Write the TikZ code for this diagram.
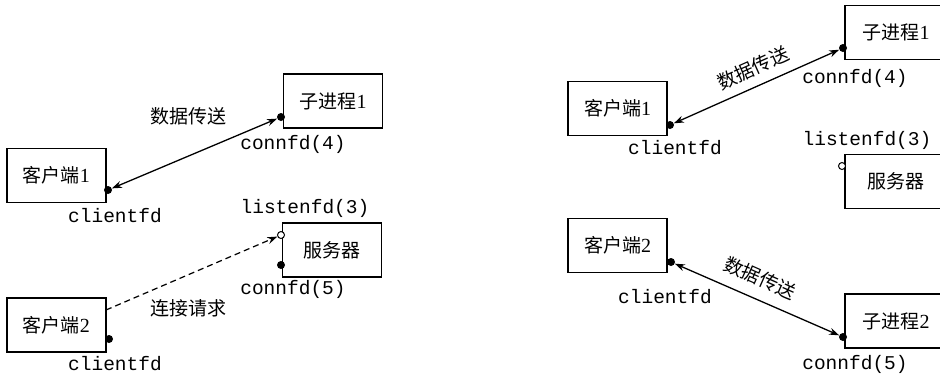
\documentclass[tikz,border=0pt]{standalone}
\usepackage{fontspec}
\setmainfont{Liberation Serif}
\setmonofont{Liberation Mono}
\newfontfamily\cjk{Noto Sans CJK SC}
\usetikzlibrary{arrows.meta,calc}
\begin{document}
\begin{tikzpicture}[x=1pt,y=-1pt,
  boxnode/.style={draw,line width=1.3pt,inner sep=0pt,minimum width=99pt,minimum height=54pt,font=\fontsize{20}{22}\selectfont},
  dotnode/.style={circle,fill=black,inner sep=0pt,minimum size=8pt},
  opendot/.style={circle,draw,fill=white,line width=1pt,inner sep=0pt,minimum size=7pt},
  monolab/.style={font=\ttfamily\fontsize{19.5}{22}\selectfont,inner sep=0pt},
  cjklab/.style={font=\cjk\fontsize{19}{21}\selectfont,inner sep=0pt},
  link/.style={line width=1.3pt,{Stealth[length=10pt,width=7pt]}-{Stealth[length=10pt,width=7pt]}},
  req/.style={line width=1.2pt,dashed,dash pattern=on 6pt off 4pt,-{Stealth[length=10pt,width=7pt]}}
]
\useasboundingbox (0,0) rectangle (940,373);
\clip (0,0) rectangle (940,373);
% ---------- left ----------
\node[boxnode] (c1) at (56.5,175.5) {{\cjk\fontsize{19}{21}\selectfont 客户端}1};
\node[boxnode] (p1) at (333,101) {{\cjk\fontsize{19}{21}\selectfont 子进程}1};
\node[boxnode] (srv) at (332,250) {\cjk\fontsize{19}{21}\selectfont 服务器};
\node[boxnode] (c2) at (56.5,325) {{\cjk\fontsize{19}{21}\selectfont 客户端}2};
\node[dotnode] (d1) at (108,190) {};
\node[dotnode] (dp1) at (281,117) {};
\node[opendot] (ls) at (281,235) {};
\node[dotnode] (cs) at (281,265) {};
\node[dotnode] (d2) at (109,339) {};
\coordinate (c2out) at (106,310);
\draw[link] (d1) -- (dp1);
\draw[req] (c2out) -- (ls);
\node[cjklab] (t1) at (188,116) {数据传送};
\node[cjklab] (t2) at (188,308) {连接请求};
\node[monolab] (l1) at (293,144) {connfd(4)};
\node[monolab] (l2) at (115,216) {clientfd};
\node[monolab] (l3) at (305,208) {listenfd(3)};
\node[monolab] (l4) at (293,289) {connfd(5)};
\node[monolab] (l5) at (115,364) {clientfd};
% ---------- right ----------
\node[boxnode] (rc1) at (617.5,108.5) {{\cjk\fontsize{19}{21}\selectfont 客户端}1};
\node[boxnode,minimum width=102pt] (rp1) at (896,32.5) {{\cjk\fontsize{19}{21}\selectfont 子进程}1};
\node[boxnode,minimum width=102pt] (rsrv) at (896,181.5) {\cjk\fontsize{19}{21}\selectfont 服务器};
\node[boxnode] (rc2) at (617.5,245.5) {{\cjk\fontsize{19}{21}\selectfont 客户端}2};
\node[boxnode,minimum width=102pt] (rp2) at (896,321) {{\cjk\fontsize{19}{21}\selectfont 子进程}2};
\node[dotnode] (rd1) at (670,125) {};
\node[dotnode] (rdp1) at (843,48) {};
\node[opendot] (rls) at (842,166) {};
\node[dotnode] (rd2) at (671,262) {};
\node[dotnode] (rdp2) at (843,337) {};
\draw[link] (rd1) -- (rdp1);
\draw[link] (rd2) -- (rdp2);
\node[cjklab,rotate=24] (rt1) at (753,68) {数据传送};
\node[cjklab,rotate=-24] (rt2) at (760,278) {数据传送};
\node[monolab] (rl1) at (855,78) {connfd(4)};
\node[monolab] (rl2) at (675,148) {clientfd};
\node[monolab] (rl3) at (867,140) {listenfd(3)};
\node[monolab] (rl4) at (665,297) {clientfd};
\node[monolab] (rl5) at (855,364) {connfd(5)};
\end{tikzpicture}
\end{document}
